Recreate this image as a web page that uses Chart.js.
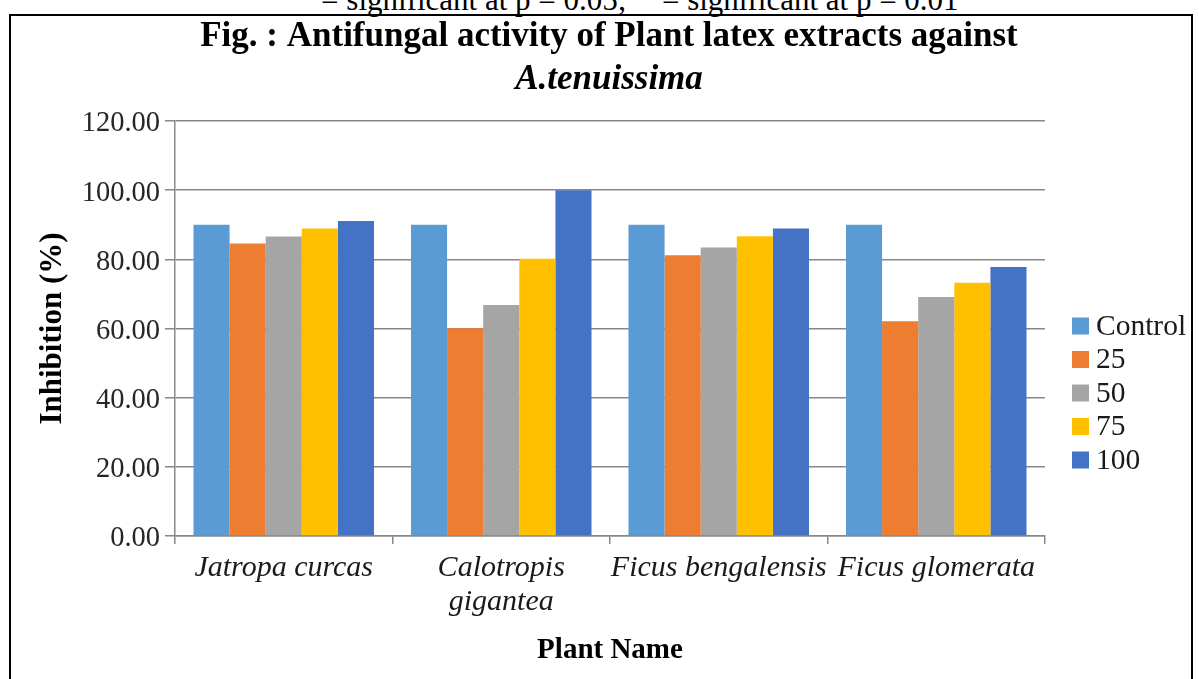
<!DOCTYPE html>
<html>
<head>
<meta charset="utf-8">
<script src="https://cdn.jsdelivr.net/npm/chart.js@4/dist/chart.umd.min.js"></script>
<style>
  html, body { margin: 0; padding: 0; background: #fff; }
  #wrap { position: relative; width: 1199px; height: 679px; overflow: hidden; background: #fff; }
  #note { position: absolute; left: 0; top: -16px; width: 1262px; text-align: center;
          font-family: 'Liberation Serif', 'Times New Roman', serif; font-size: 31px; line-height: 32px; color: #000; white-space: nowrap; }
  #note sup { font-size: 20px; vertical-align: 12px; line-height: 0; }
  #frame { position: absolute; left: 9px; top: 14px; width: 1184px; height: 720px; border: 2px solid #000; box-sizing: border-box; pointer-events: none; }
  canvas { position: absolute; left: 0; top: 0; }
</style>
</head>
<body>
<div id="wrap">
  <div id="note"><sup>*</sup> = significant at p = 0.05; <sup>**</sup> = significant at p = 0.01</div>
  <div id="frame"></div>
  <canvas id="c" width="1199" height="679"></canvas>
</div>
<script>
const categories = ['Jatropa curcas', ['Calotropis', 'gigantea'], 'Ficus bengalensis', 'Ficus glomerata'];
const seriesNames = ['Control', '25', '50', '75', '100'];
const controlValues = [90.0, 90.0, 90.0, 90.0];
const conc25Values = [84.6, 60.1, 81.2, 62.1];
const conc50Values = [86.6, 66.8, 83.4, 69.1];
const conc75Values = [88.9, 80.2, 86.7, 73.2];
const conc100Values = [91.1, 100.0, 88.9, 77.8];
const seriesColors = ['#5B9BD5', '#ED7D31', '#A5A5A5', '#FFC000', '#4472C4'];
const yTickValues = [0, 20, 40, 60, 80, 100, 120];

const serif = "'Liberation Serif', 'Times New Roman', serif";
const gridColor = '#878787';
const allValues = [controlValues, conc25Values, conc50Values, conc75Values, conc100Values];

const datasets = seriesNames.map((name, i) => ({
  label: name,
  data: allValues[i],
  backgroundColor: seriesColors[i],
  borderWidth: 0,
  categoryPercentage: 0.83,
  barPercentage: 1.0
}));

const sideLegend = {
  id: 'sideLegend',
  afterDraw(chart) {
    const ctx = chart.ctx;
    const area = chart.chartArea;
    const x0 = area.right + 27;
    const y0 = area.top + 205;
    const step = 33.5;
    ctx.save();
    ctx.font = '29.5px ' + serif;
    ctx.textBaseline = 'middle';
    ctx.textAlign = 'left';
    chart.data.datasets.forEach((ds, i) => {
      const cy = y0 + i * step;
      ctx.fillStyle = ds.backgroundColor;
      ctx.fillRect(x0, cy - 8.5, 17, 17);
      ctx.fillStyle = '#1a1a1a';
      ctx.fillText(ds.label, x0 + 24, cy + 1);
    });
    ctx.restore();
  }
};

new Chart(document.getElementById('c'), {
  type: 'bar',
  data: { labels: categories, datasets },
  plugins: [sideLegend],
  options: {
    responsive: false,
    animation: false,
    layout: { padding: { left: 19, right: 0, top: 0, bottom: 0 } },
    plugins: {
      legend: { display: false },
      tooltip: { enabled: false },
      title: {
        display: true,
        text: 'Fig. : Antifungal activity of Plant latex extracts against',
        color: '#000',
        font: { family: serif, size: 35, weight: 'bold', lineHeight: 1.2 },
        padding: { top: 16.3, bottom: 0 }
      },
      subtitle: {
        display: true,
        text: 'A.tenuissima',
        color: '#000',
        font: { family: serif, size: 35, weight: 'bold', style: 'italic', lineHeight: 1.2 },
        padding: { top: 1, bottom: 19.7 }
      }
    },
    scales: {
      x: {
        grid: { display: true, drawOnChartArea: false, drawTicks: true, tickLength: 8, color: gridColor, lineWidth: 1.5 },
        border: { display: true, color: gridColor, width: 1.5 },
        ticks: { color: '#1a1a1a', padding: 7.6, maxRotation: 0, autoSkip: false,
                 font: { family: serif, size: 30, style: 'italic', lineHeight: 1.12 } },
        title: { display: true, text: 'Plant Name', color: '#000',
                 font: { family: serif, size: 29, weight: 'bold', lineHeight: 1.2 },
                 padding: { top: 0, bottom: 11 } },
        afterFit(s) { s.height = 143; }
      },
      y: {
        min: 0, max: 120,
        afterBuildTicks(s) { s.ticks = yTickValues.map(v => ({ value: v })); },
        grid: { color: gridColor, lineWidth: 1.5, drawTicks: true, tickLength: 10 },
        border: { display: true, color: gridColor, width: 1.5 },
        ticks: { color: '#262626', padding: 5, labelOffset: 3, callback: v => Number(v).toFixed(2),
                 font: { family: serif, size: 28.5, lineHeight: 1.2 } },
        title: { display: true, text: 'Inhibition (%)', color: '#000',
                 font: { family: serif, size: 31, weight: 'bold', lineHeight: 1.2 },
                 padding: { top: 14.9, bottom: 0 } },
        afterFit(s) { s.width = 156; }
      },
      yR: {
        type: 'linear', position: 'right', display: true,
        grid: { display: false, drawTicks: false },
        border: { display: false },
        ticks: { display: false },
        afterFit(s) { s.width = 154; }
      }
    }
  }
});
</script>
</body>
</html>
